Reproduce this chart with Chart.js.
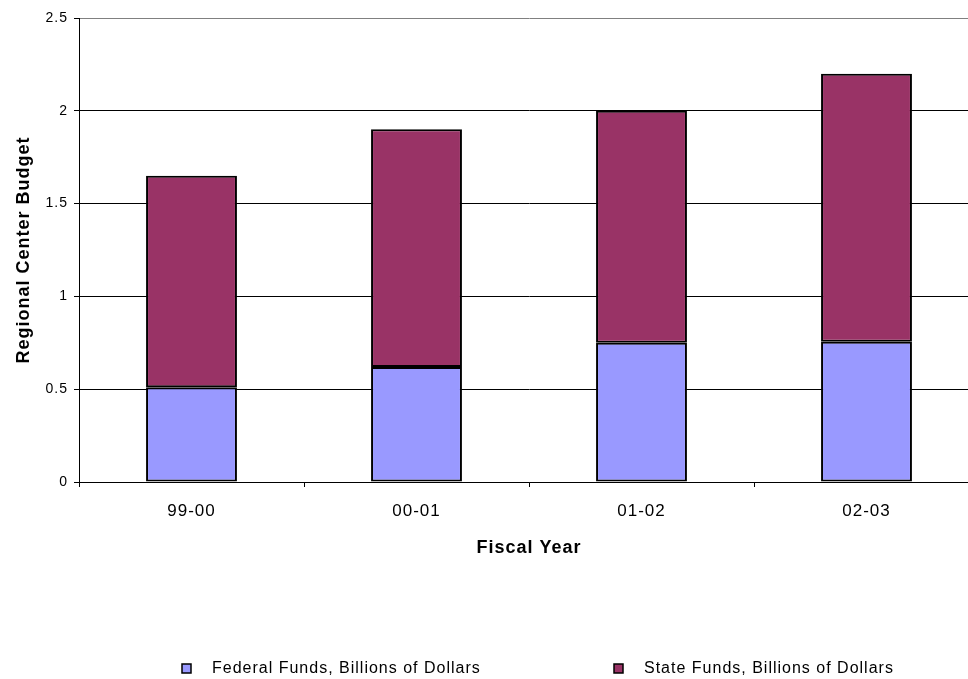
<!DOCTYPE html>
<html>
<head>
<meta charset="utf-8">
<script src="https://cdn.jsdelivr.net/npm/chart.js@4/dist/chart.umd.min.js"></script>
<style>
  html, body { margin: 0; padding: 0; background: #fff; overflow: hidden; }
  #wrap { width: 980px; height: 679px; }
</style>
</head>
<body>
<div id="wrap"><canvas id="myChart" width="980" height="679"></canvas></div>
<script>
const categories = ["99-00", "00-01", "01-02", "02-03"];
const federalFunds = [0.51, 0.62, 0.75, 0.755];
const stateFunds = [1.14, 1.28, 1.25, 1.445];
const yTicks = [0, 0.5, 1, 1.5, 2, 2.5];

const FONT = "'Liberation Sans', Arial, sans-serif";
const FED_COLOR = "#9999FF";
const STATE_COLOR = "#993366";

// spacing like the original renderer, set before measuring and drawing
const spacingPlugin = {
  id: "spacing",
  beforeUpdate: (chart) => { chart.ctx.letterSpacing = "1px"; },
  beforeDraw: (chart) => { chart.ctx.letterSpacing = "1px"; },
};

// legend along the bottom, two items far apart
const legendPlugin = {
  id: "bottomLegend",
  afterDraw: (chart) => {
    const ctx = chart.ctx;
    const spots = [182, 614];
    ctx.save();
    ctx.letterSpacing = "1px";
    ctx.font = "16px " + FONT;
    ctx.textBaseline = "middle";
    chart.data.datasets.forEach((ds, i) => {
      const x = spots[i];
      ctx.fillStyle = ds.backgroundColor;
      ctx.fillRect(x, 664, 9, 9);
      ctx.strokeStyle = "#000";
      ctx.lineWidth = 1.5;
      ctx.strokeRect(x, 664, 9, 9);
      ctx.fillStyle = "#000";
      ctx.fillText(ds.label, x + 30, 669);
    });
    ctx.restore();
  },
};

const ctx = document.getElementById("myChart").getContext("2d");
const myChart = new Chart(ctx, {
  type: "bar",
  data: {
    labels: categories,
    datasets: [
      {
        label: "Federal Funds, Billions of Dollars",
        data: federalFunds,
        backgroundColor: FED_COLOR,
        borderColor: "#000",
        borderWidth: 2,
        borderSkipped: false,
        categoryPercentage: 0.404,
        barPercentage: 1,
      },
      {
        label: "State Funds, Billions of Dollars",
        data: stateFunds,
        backgroundColor: STATE_COLOR,
        borderColor: "#000",
        borderWidth: 2,
        borderSkipped: false,
        categoryPercentage: 0.404,
        barPercentage: 1,
      },
    ],
  },
  options: {
    responsive: false,
    animation: false,
    layout: {
      padding: { top: 18, right: 1, bottom: 116, left: 0 },
    },
    plugins: {
      legend: { display: false },
      tooltip: { enabled: false },
    },
    scales: {
      x: {
        stacked: true,
        offset: true,
        afterFit: (scale) => {
          scale.height = 81;
        },
        grid: {
          offset: true,
          drawOnChartArea: false,
          tickLength: 5,
          color: "#000",
        },
        border: { color: "#000", width: 1 },
        ticks: {
          color: "#000",
          padding: 14,
          maxRotation: 0,
          font: { family: FONT, size: 17 },
        },
        title: {
          display: true,
          text: "Fiscal Year",
          color: "#000",
          font: { family: FONT, size: 18, weight: "bold" },
          padding: { top: 16, bottom: 4 },
        },
      },
      y: {
        stacked: true,
        min: 0,
        max: 2.5,
        afterBuildTicks: (scale) => {
          scale.ticks = yTicks.map((v) => ({ value: v }));
        },
        afterFit: (scale) => {
          scale.width = 79;
        },
        grid: {
          color: (c) => (c.tick && c.tick.value === 2.5 ? "#808080" : "#000"),
          tickColor: "#000",
          tickLength: 5,
          lineWidth: 1,
        },
        border: { color: "#000", width: 1 },
        ticks: {
          color: "#000",
          padding: 6,
          font: { family: FONT, size: 14 },
          callback: (v) => String(v),
        },
        title: {
          display: true,
          text: "Regional Center Budget",
          color: "#000",
          font: { family: FONT, size: 18, weight: "bold" },
          padding: { top: 13, bottom: 0 },
        },
      },
    },
  },
  plugins: [spacingPlugin, legendPlugin],
});
</script>
</body>
</html>
